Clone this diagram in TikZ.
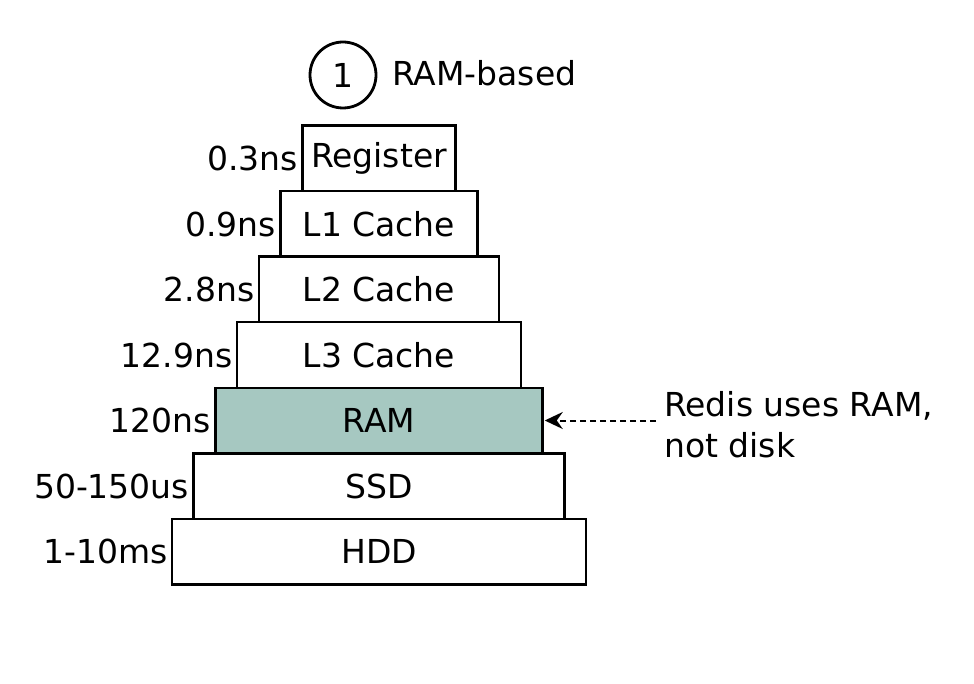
\documentclass[tikz,border=0pt]{standalone}
\usepackage{fontspec}
\setmainfont{DejaVu Sans}
\usetikzlibrary{arrows.meta}
\definecolor{ramfill}{RGB}{166,200,193}
\newcommand{\bigtxt}{\fontsize{33}{41}\selectfont}
\tikzset{
  lvl/.style={draw, line width=2.5pt, minimum height=65.5pt, inner sep=0pt, font=\bigtxt},
  lat/.style={anchor=east, inner sep=0pt, font=\bigtxt, xshift=-3pt},
}
\begin{document}
\begin{tikzpicture}[x=1pt,y=-1pt]
\useasboundingbox (0,0) rectangle (974,684);
\node[draw, circle, line width=2.8pt, minimum size=66pt, inner sep=0pt, font=\bigtxt] (one) at (343,75) {1};
\node[anchor=west, inner sep=0pt, font=\bigtxt] (title) at (392,73) {RAM-based};

\node[lvl, minimum width=153pt] (reg) at (379,158.5) {Register};
\node[lvl, minimum width=197pt] (l1) at (379,224) {L1 Cache};
\node[lvl, minimum width=240pt] (l2) at (379,289.5) {L2 Cache};
\node[lvl, minimum width=284pt] (l3) at (379,355) {L3 Cache};
\node[lvl, minimum width=327pt, fill=ramfill] (ram) at (379,420.5) {RAM};
\node[lvl, minimum width=371pt] (ssd) at (379,486) {SSD};
\node[lvl, minimum width=414pt] (hdd) at (379,551.5) {HDD};

\node[lat] (treg) at (reg.west) {0.3ns};
\node[lat] (tl1) at (l1.west) {0.9ns};
\node[lat] (tl2) at (l2.west) {2.8ns};
\node[lat] (tl3) at (l3.west) {12.9ns};
\node[lat] (tram) at (ram.west) {120ns};
\node[lat] (tssd) at (ssd.west) {50-150us};
\node[lat] (thdd) at (hdd.west) {1-10ms};

\node[anchor=west, align=left, inner sep=0pt, font=\bigtxt] (note) at (664,425) {Redis uses RAM,\\not disk};
\draw[line width=2pt, dash pattern=on 6pt off 4pt, -{Stealth[length=18pt,width=17pt,inset=6pt]}] (ram.east -| note.west) ++(-8pt,0) -- ([xshift=1pt]ram.east);
\end{tikzpicture}
\end{document}
